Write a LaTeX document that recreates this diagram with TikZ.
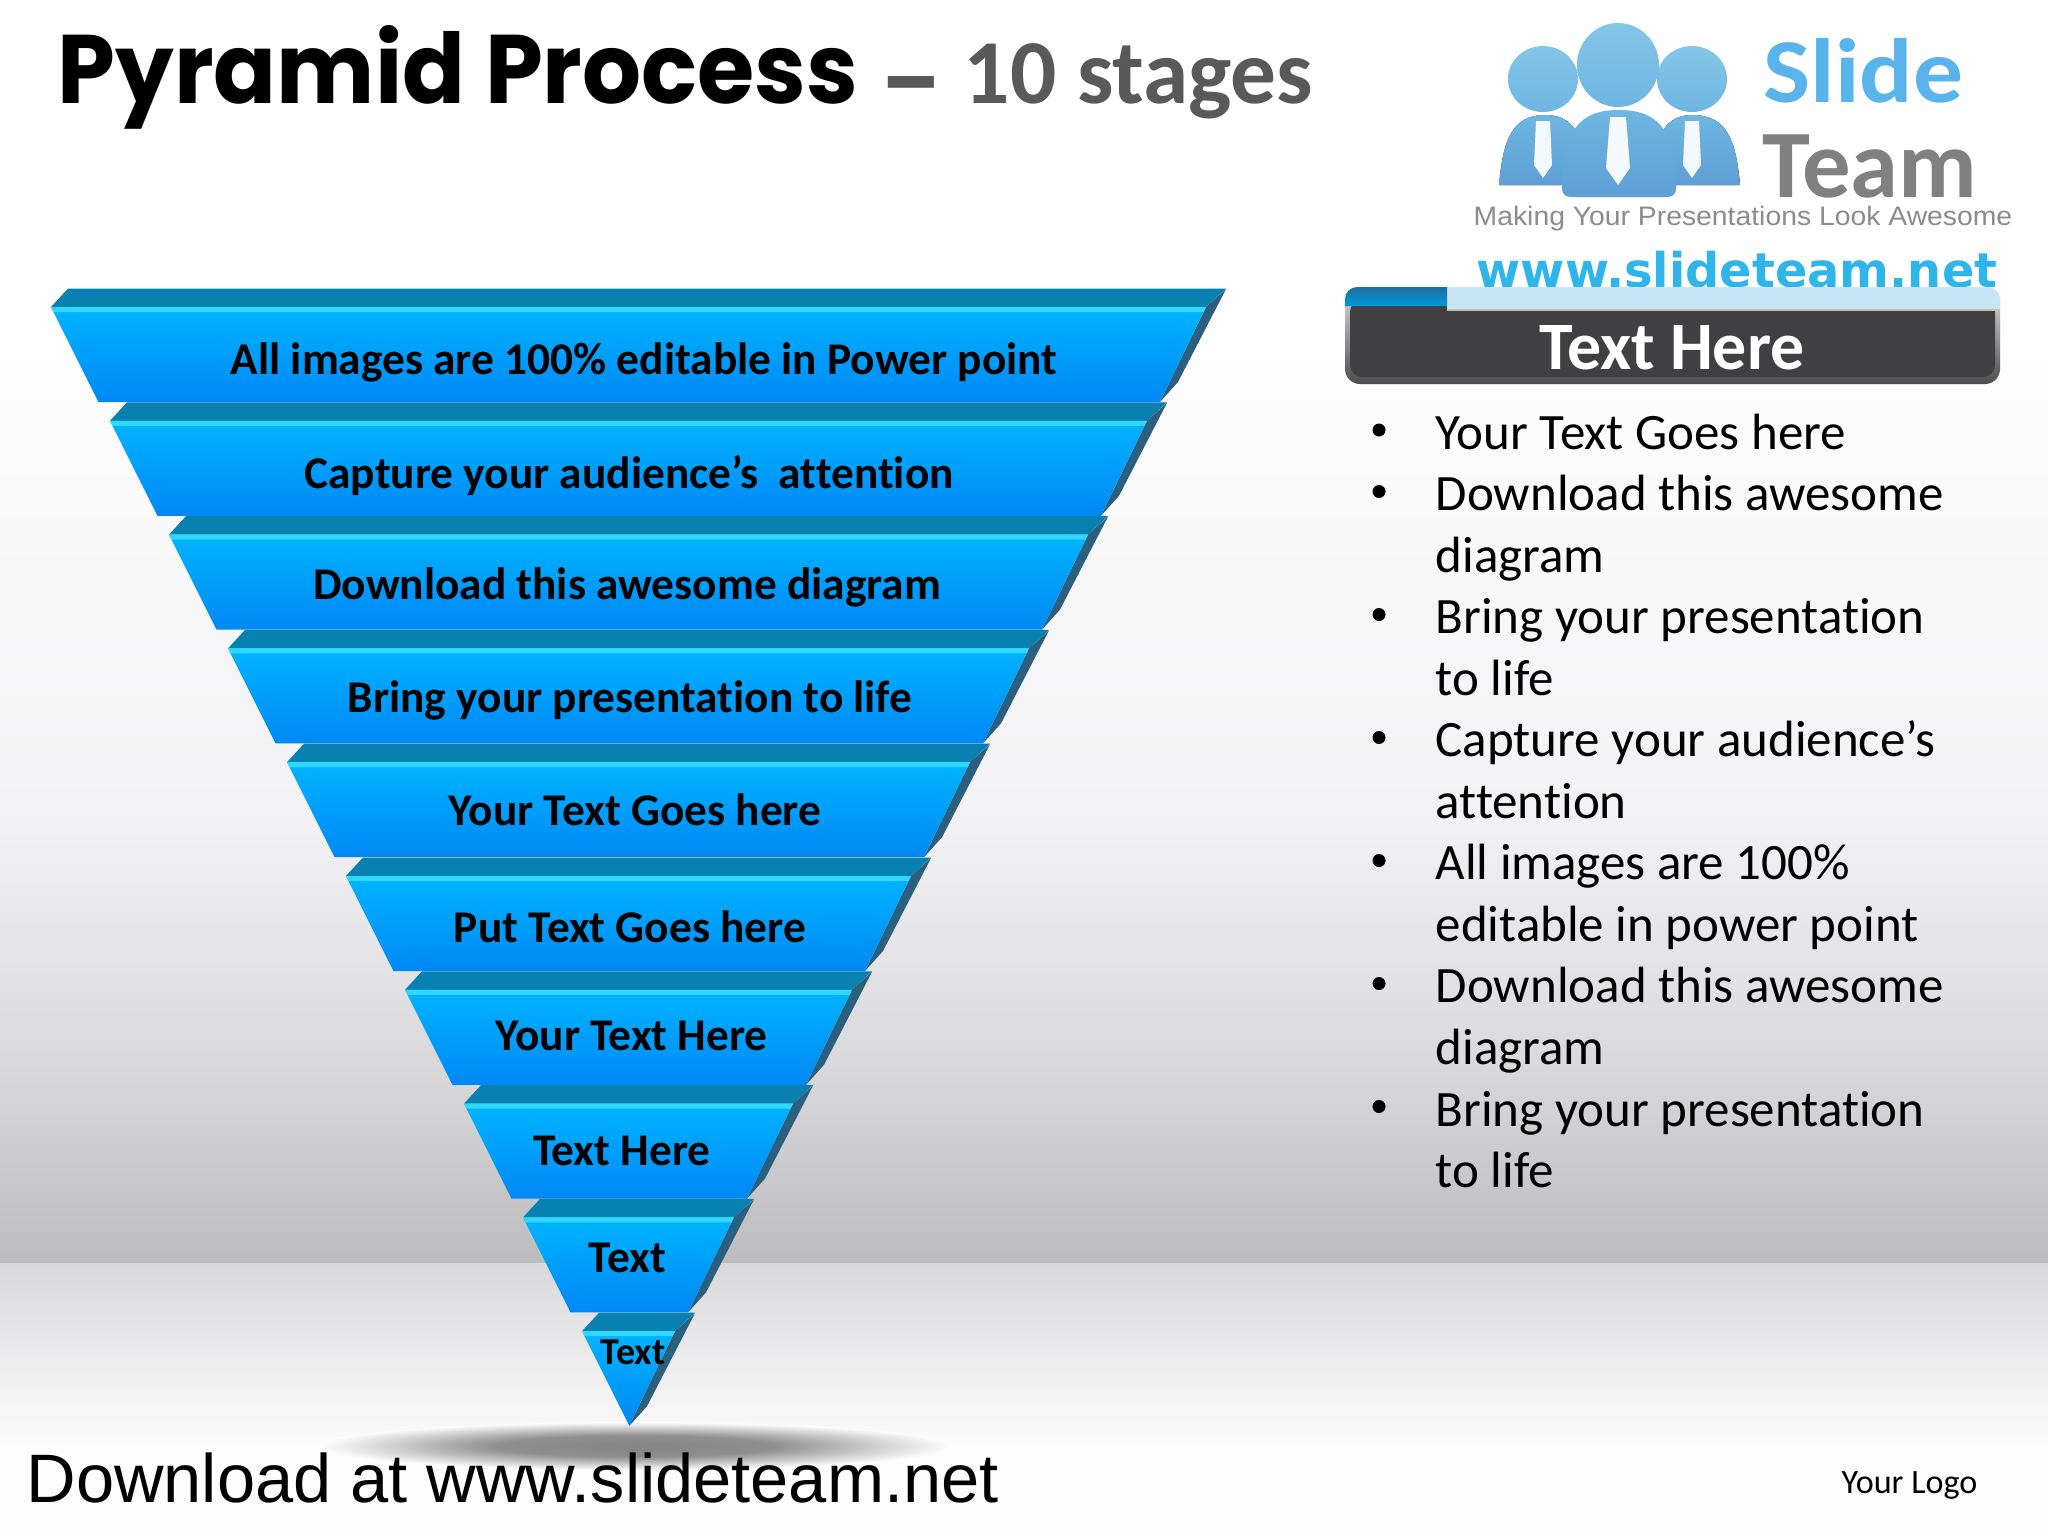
\documentclass[tikz,border=0pt]{standalone}
\usepackage{fontspec}
\setmainfont{Carlito}[Ligatures=NoCommon]
\newfontfamily\titlefont{Poppins}
\newfontfamily\arialfont{Liberation Sans}
\newfontfamily\urlfont{DejaVu Sans}
\usetikzlibrary{shapes.geometric, calc}
\definecolor{backface}{HTML}{0880B0}
\definecolor{sideface}{HTML}{2B5F80}
\definecolor{fronttop}{HTML}{00B4FF}
\definecolor{frontbot}{HTML}{0088F6}
\definecolor{bevel}{HTML}{30D8FF}
\definecolor{wallgrey}{HTML}{BCBBBD}
\definecolor{wallmid}{HTML}{D9D8DA}
\definecolor{wallpale}{HTML}{F3F2F4}
\definecolor{floorgrey}{HTML}{D9D9DB}
\definecolor{floorwhite}{HTML}{FEFDFE}
\definecolor{boxdark}{HTML}{404042}
\definecolor{stripblue}{HTML}{C8E6F5}
\definecolor{tabtop}{HTML}{1F6E9C}
\definecolor{tabbot}{HTML}{0099DD}
\definecolor{striptan}{HTML}{C8C0B0}
\definecolor{logoblue}{HTML}{6FB6E2}
\definecolor{logolow}{HTML}{5E9FD6}
\definecolor{logohead}{HTML}{84C6E8}
\definecolor{logoslide}{HTML}{5AB4EC}
\definecolor{logourl}{HTML}{2FB5EA}
\pgfdeclareradialshading{shadowspot}{\pgfpoint{0bp}{0bp}}{color(0bp)=(black!48); color(11bp)=(black!44); color(25bp)=(floorwhite); color(50bp)=(floorwhite)}

\begin{document}
\begin{tikzpicture}[x=0.01cm, y=-0.01cm]
\useasboundingbox (0,0) rectangle (2048,1536);
%
% Styles
\tikzstyle{layertext} = [anchor=base, inner sep=0pt, font=\bfseries\fontsize{12.9}{16}\selectfont, text=black]
\tikzstyle{backpart} = [fill=backface]
\tikzstyle{sidepart} = [fill=sideface]
\tikzstyle{frontpart} = [top color=fronttop, bottom color=frontbot]
\tikzstyle{bevelpart} = [fill=bevel]
\tikzstyle{bulletdot} = [circle, fill=black, inner sep=0pt, minimum size=13*0.01cm]
\tikzstyle{logotie} = [fill=white!92!logoblue]
\tikzstyle{logobody} = [top color=logoblue, bottom color=logolow]
\tikzstyle{logoface} = [top color=logohead, bottom color=logoblue]
% Backdrop
\fill[white] (0,0) rectangle (2048,301);
\shade[top color=white, bottom color=wallpale] (0,300) rectangle (2048,811);
\shade[top color=wallpale, bottom color=wallmid] (0,810) rectangle (2048,1066);
\shade[top color=wallmid, bottom color=wallgrey] (0,1065) rectangle (2048,1263);
\shade[top color=floorgrey, bottom color=floorwhite] (0,1263) rectangle (2048,1450);
\fill[floorwhite] (0,1449) rectangle (2048,1536);
\shade[shading=shadowspot] (635,1446) ellipse (315 and 24);
% Pyramid layers
\foreach \i in {0,...,9} {
  \pgfmathsetmacro{\dx}{59*\i}
  \pgfmathsetmacro{\dy}{113.8*\i}
  \fill[backpart] (68+\dx,288.5+\dy) -- (1226-\dx,288.5+\dy) -- (1206-\dx,307+\dy) -- (51+\dx,307+\dy) -- cycle;
  \fill[sidepart] (1226-\dx,289+\dy) -- (1178-\dx,382+\dy) -- (1160-\dx,402+\dy) -- (1206-\dx,307+\dy) -- cycle;
  \shade[frontpart] (51+\dx,307+\dy) -- (1206-\dx,307+\dy) -- (1160-\dx,402+\dy) -- (98.5+\dx,402+\dy) -- cycle;
  \fill[bevelpart] (51+\dx,307+\dy) -- (1206-\dx,307+\dy) -- (1203.5-\dx,312+\dy) -- (53.5+\dx,312+\dy) -- cycle;
}
% Layer labels
\foreach \i/\xc/\yb/\lbl in {0/644/374/All images are 100\% editable in Power point,
    1/629/488/Capture your audience’s\ \ attention,
    2/627/599/Download this awesome diagram,
    3/630/712/Bring your presentation to life,
    4/635/825/Your Text Goes here,
    5/630/942/Put Text Goes here,
    6/631.5/1050/Your Text Here,
    7/622/1165/Text Here,
    8/627.5/1272/Text}
  \node (label_\i) [layertext] at (\xc,\yb) {\lbl};
\node (label_9) [layertext, font=\bfseries\fontsize{10.8}{13}\selectfont] at (633,1364) {Text};
% Title
\node (title_main) [anchor=base west, inner sep=0pt, font=\titlefont\bfseries\fontsize{27.7}{32}\selectfont] at (57,103) {\scalebox{.952}[1]{Pyramid Process}};
\node (title_dash) [anchor=base west, inner sep=0pt, text=black!65, font=\titlefont\bfseries\fontsize{23.6}{28}\selectfont] at (882,111) {–};
\node (title_rest) [anchor=base west, inner sep=0pt, text=black!65, font=\bfseries\fontsize{26}{32}\selectfont] at (963,103) {10 stages};
% Logo
\fill[logobody] (1499,185) .. controls (1503,140) and (1512,115) .. (1545,115) .. controls (1570,115) and (1585,130) .. (1590,185) -- cycle;
\fill[logobody] (1740,185) .. controls (1736,140) and (1727,115) .. (1692,115) .. controls (1670,115) and (1652,130) .. (1650,185) -- cycle;
\shade[logoface] (1543,79) ellipse (35 and 33);
\shade[logoface] (1692,79) ellipse (35 and 33);
\shade[logoface] (1618,65) ellipse (41 and 42);
\shade[logobody] (1562,188) .. controls (1562,130) and (1580,110) .. (1619,110) .. controls (1658,110) and (1676,130) .. (1676,188) .. controls (1676,195) and (1672,197) .. (1666,197) -- (1572,197) .. controls (1566,197) and (1562,195) .. (1562,188) -- cycle;
\fill[logotie] (1536,121) -- (1550,121) -- (1552,165) -- (1543,178) -- (1534,165) -- cycle;
\fill[logotie] (1685,121) -- (1699,121) -- (1701,165) -- (1692,178) -- (1683,165) -- cycle;
\fill[logotie] (1610,117) -- (1626,117) -- (1630,168) -- (1618,185) -- (1606,168) -- cycle;
\node (logo_slide) [anchor=base west, inner sep=0pt, text=logoslide, font=\bfseries\fontsize{26}{30}\selectfont] at (1763,102) {\scalebox{1.09}[1]{Slide}};
\node (logo_team) [anchor=base west, inner sep=0pt, text=black!50, font=\bfseries\fontsize{27.5}{30}\selectfont] at (1762,197) {Team};
\node (logo_slogan) [anchor=base west, inner sep=0pt, text=black!45, font=\arialfont\fontsize{7.6}{9}\selectfont] at (1473,225) {\scalebox{1.06}[1]{Making Your Presentations Look Awesome}};
\node (logo_url) [anchor=base west, inner sep=0pt, text=logourl, font=\urlfont\bfseries\fontsize{13.6}{16}\selectfont] at (1476,287) {www.slideteam.net};
% Header box
\shade[top color=black!12, bottom color=black!70, rounded corners=15*0.01cm] (1345,287) rectangle (2000,384);
\fill[boxdark, rounded corners=12*0.01cm] (1350,300) rectangle (1995,377);
\fill[stripblue] (1447,309) -- (1447,287) [rounded corners=12*0.01cm] -- (2000,287) [sharp corners] -- (2000,309) -- cycle;
\fill[striptan] (1447,308.5) rectangle (2000,310.5);
\shade[top color=tabtop, bottom color=tabbot] (1447,306) -- (1345,306) [rounded corners=12*0.01cm] -- (1345,287) [sharp corners] -- (1447,287) -- cycle;
\node (box_title) [anchor=base, inner sep=0pt, text=white, font=\bfseries\fontsize{19.3}{22}\selectfont] at (1672,369) {Text Here};
% Bullets
\node (bullet_text) [anchor=north west, inner sep=0pt, align=left, font=\fontsize{14.5}{17.5}\selectfont] at (1435,413) {Your Text Goes here\\Download this awesome\\diagram\\Bring your presentation\\to life\\Capture your audience’s\\attention\\All images are 100\%\\editable in power point\\Download this awesome\\diagram\\Bring your presentation\\to life};
\foreach \n in {0,1,3,5,7,9,11}
  \node (dot_\n) [bulletdot] at (1379,430+61.5*\n) {};
% Footer
\node (download) [anchor=base west, inner sep=0pt, font=\arialfont\fontsize{19.5}{23}\selectfont] at (26,1502) {Download at www.slideteam.net};
\node (your_logo) [anchor=base west, inner sep=0pt, font=\fontsize{9.7}{12}\selectfont] at (1841,1493) {Your Logo};
\end{tikzpicture}
\end{document}
